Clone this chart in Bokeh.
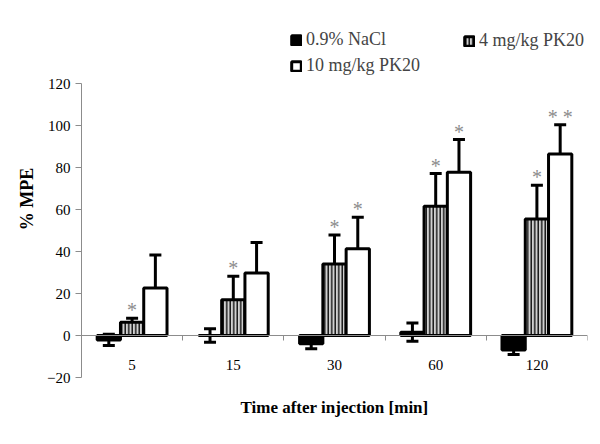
import numpy as np
from bokeh.plotting import figure
from bokeh.models import (Range1d, FixedTicker, Whisker, TeeHead, ColumnDataSource,
                          Legend, LegendItem, LinearAxis)
from bokeh.core.properties import value
from bokeh.embed import file_html
from bokeh.resources import INLINE

# ---- data ----
categories = ["5", "15", "30", "60", "120"]
series_names = ["0.9% NaCl", "4 mg/kg PK20", "10 mg/kg PK20"]
nacl_mean = [-2.1, 0.0, -3.9, 1.6, -6.9]
nacl_err = [2.7, 3.2, 2.4, 4.3, 2.2]
pk4_mean = [6.3, 17.0, 34.0, 61.5, 55.5]
pk4_err = [1.9, 11.2, 13.8, 15.6, 16.0]
pk10_mean = [22.6, 29.8, 41.3, 77.7, 86.4]
pk10_err = [15.7, 14.5, 15.0, 15.6, 14.0]
pk4_sig = ["*", "*", "*", "*", "*"]
pk10_sig = ["", "", "*", "*", "* *"]
y_ticks = [-20, 0, 20, 40, 60, 80, 100, 120]
x_title = "Time after injection [min]"
y_title = "% MPE"

SERIF = "Liberation Serif"
GRAY = "#8c8c8c"

n = len(categories)
centers = np.arange(n, dtype=float)
bw = 0.23

p = figure(frame_width=506, frame_height=357, output_backend="svg", toolbar_location=None,
           x_range=Range1d(-0.5, n - 0.5), y_range=Range1d(-20, 150),
           min_border_left=81, min_border_top=20, min_border_right=4, min_border_bottom=10)
p.outline_line_color = None
p.xgrid.visible = False
p.ygrid.visible = False
p.background_fill_color = "white"

styles = [
    dict(fill_color="black"),
    dict(fill_color="#d0d0d0", hatch_pattern="|", hatch_color="black", hatch_scale=3.5, hatch_weight=1.3),
    dict(fill_color="white"),
]
means = [nacl_mean, pk4_mean, pk10_mean]
errs = [nacl_err, pk4_err, pk10_err]
sigs = [None, pk4_sig, pk10_sig]

renderers = []
for k, (m, e, st) in enumerate(zip(means, errs, styles)):
    xs = centers + (k - 1) * bw
    m = np.array(m)
    e = np.array(e)
    src = ColumnDataSource(dict(x=xs, top=m, upper=m + e, lower=m - e))
    r = p.vbar(x="x", top="top", bottom=0, width=bw, source=src,
               line_color="black", line_width=3, **st)
    renderers.append(r)
    w = Whisker(base="x", upper="upper", lower="lower", source=src,
                line_color="black", line_width=3,
                upper_head=TeeHead(size=12, line_width=3, line_color="black"),
                lower_head=TeeHead(size=12, line_width=3, line_color="black"))
    p.add_layout(w)
    if sigs[k] is not None:
        ssrc = ColumnDataSource(dict(x=xs, y=m + e, t=sigs[k]))
        p.text(x="x", y="y", text="t", source=ssrc, text_align="center",
               text_baseline="middle", y_offset=-8, text_color=GRAY,
               text_font=value(SERIF), text_font_size="20px")

# x axis drawn at y = 0
p.xaxis.fixed_location = 0
p.xaxis.ticker = FixedTicker(ticks=list(centers), minor_ticks=list(centers[:-1] + 0.5) + [n - 0.5])
p.xaxis.major_label_overrides = {float(i): c for i, c in enumerate(categories)}
p.xaxis.major_tick_out = 0
p.xaxis.major_tick_in = 0
p.xaxis.minor_tick_out = 5
p.xaxis.minor_tick_in = 0
p.xaxis.minor_tick_line_color = GRAY
p.xaxis.axis_line_color = GRAY
p.xaxis.axis_line_width = 1
p.xaxis.major_label_standoff = 19
p.xaxis.major_label_text_font = SERIF
p.xaxis.major_label_text_font_size = "15px"
p.xaxis.major_label_text_color = "black"

# second (title-only) axis at the bottom for the x title
tax = LinearAxis(ticker=FixedTicker(ticks=[]), axis_line_color=None,
                 major_tick_line_color=None, minor_tick_line_color=None,
                 major_label_text_font_size="0px", axis_label=x_title,
                 axis_label_standoff=20, axis_label_text_font=SERIF,
                 axis_label_text_font_size="17px", axis_label_text_font_style="bold",
                 axis_label_text_color="black")
p.add_layout(tax, "below")

p.yaxis.ticker = FixedTicker(ticks=y_ticks, minor_ticks=[])
p.yaxis.bounds = (y_ticks[0], y_ticks[-1])
p.yaxis.axis_line_color = GRAY
p.yaxis.major_tick_line_color = GRAY
p.yaxis.major_tick_out = 6
p.yaxis.major_tick_in = 0
p.yaxis.minor_tick_line_color = None
p.yaxis.major_label_standoff = 5
p.yaxis.major_label_text_font = SERIF
p.yaxis.major_label_text_font_size = "15px"
p.yaxis.major_label_text_color = "black"
p.yaxis.axis_label = y_title
p.yaxis.axis_label_standoff = 7
p.yaxis.axis_label_text_font = SERIF
p.yaxis.axis_label_text_font_size = "18px"
p.yaxis.axis_label_text_font_style = "bold"
p.yaxis.axis_label_text_color = "black"

def mk_legend(items, loc):
    lg = Legend(items=items, location=loc, orientation="vertical",
                label_text_font=SERIF, label_text_font_size="18px",
                glyph_width=12, glyph_height=12, label_standoff=4,
                spacing=5, padding=0, margin=0, border_line_color=None,
                background_fill_alpha=0, label_height=20)
    return lg

lg1 = mk_legend([LegendItem(label=series_names[0], renderers=[renderers[0]]),
                 LegendItem(label=series_names[2], renderers=[renderers[2]])], (209, 301))
lg2 = mk_legend([LegendItem(label=series_names[1], renderers=[renderers[1]])], (382, 326))
p.add_layout(lg1)
p.add_layout(lg2)

open("out.html", "w").write(file_html(p, INLINE))
